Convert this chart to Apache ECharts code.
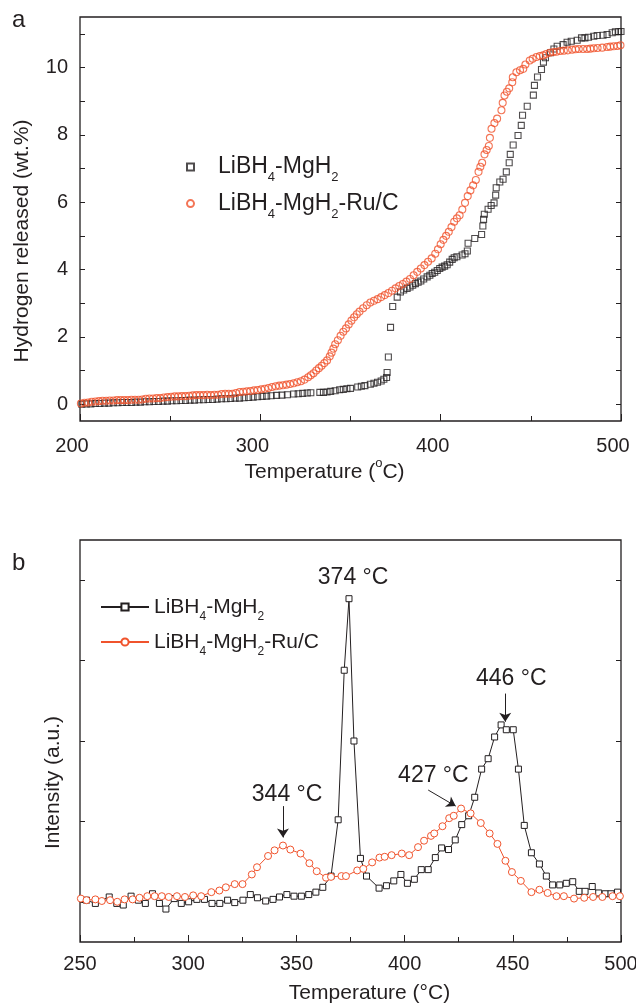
<!DOCTYPE html>
<html lang="en">
<head>
<meta charset="UTF-8">
<title>Hydrogen release and MS profiles</title>
<style>
  html, body { margin: 0; padding: 0; width: 636px; height: 1005px; background: #fff; }
  #main { width: 636px; height: 1005px; }
</style>
</head>
<body>
<div id="main"></div>
<script src="https://cdn.jsdelivr.net/npm/echarts@6/dist/echarts.min.js"></script>
<script>
// ---- panel a: hydrogen released (wt.%) vs temperature (C)
var tempA_ref = [201, 203.5, 206, 208.5, 211, 213.5, 216, 218.5, 221, 223.5, 226, 228.5, 231, 233.5, 236, 238.5, 241, 243.5, 246, 248.5,
  251, 253.5, 256, 258.5, 261, 263.5, 266, 268.5, 271, 273.5, 276, 278.5, 281, 283.5, 286, 288.5, 291, 293.5, 296, 298.5,
  301, 303.5, 306, 309, 312, 315, 318.5, 321, 323.5, 326, 328, 333, 335, 337, 339, 341.5, 344, 346, 348, 350,
  354, 356, 358, 361, 363, 365, 367, 368.5, 370, 370.3, 371, 372.2, 373.4, 375.9, 377.7, 379.5, 381.4, 383, 384.5, 386,
  387.5, 389, 390.6, 392.5, 394, 395.3, 396.7, 398.1, 399.5, 400.8, 402.2, 403.6, 405, 406.4, 407.5, 409, 411.9, 413.5, 414.8, 415.2,
  418.9, 422.7, 423.4, 423.8, 424.2, 426.3, 428, 429.6, 430.5, 430.8, 432.8, 434.6, 436.4, 438, 438.6, 440.2, 442.9, 444.7, 445.4, 448,
  451.4, 452, 453.7, 455.9, 457, 458.1, 460.9, 462.8, 464.6, 467.9, 470.1, 472.4, 475.7, 478.1, 480, 482, 484.9, 486.8, 490, 492.3,
  495.1, 496.9, 498.7, 500];
var h2A_ref = [0.00, 0.01, 0.01, 0.02, 0.02, 0.03, 0.03, 0.04, 0.04, 0.05, 0.05, 0.05, 0.06, 0.06, 0.07, 0.07, 0.08, 0.08, 0.09, 0.09,
  0.10, 0.10, 0.11, 0.11, 0.12, 0.12, 0.13, 0.13, 0.14, 0.14, 0.15, 0.16, 0.16, 0.17, 0.18, 0.18, 0.19, 0.20, 0.21, 0.22,
  0.23, 0.24, 0.25, 0.26, 0.27, 0.28, 0.30, 0.31, 0.32, 0.33, 0.34, 0.35, 0.35, 0.36, 0.38, 0.40, 0.43, 0.44, 0.46, 0.47,
  0.51, 0.53, 0.55, 0.59, 0.62, 0.65, 0.69, 0.74, 0.79, 0.94, 1.40, 2.28, 2.90, 3.18, 3.33, 3.39, 3.44, 3.48, 3.53, 3.58,
  3.62, 3.66, 3.72, 3.78, 3.83, 3.88, 3.92, 3.97, 4.03, 4.07, 4.10, 4.14, 4.22, 4.30, 4.35, 4.38, 4.43, 4.47, 4.55, 4.78,
  4.92, 5.04, 5.29, 5.49, 5.64, 5.79, 5.90, 5.98, 6.21, 6.43, 6.60, 6.68, 6.90, 7.17, 7.42, 7.70, 7.98, 8.28, 8.58, 8.85,
  9.18, 9.47, 9.72, 9.94, 10.16, 10.29, 10.44, 10.55, 10.63, 10.68, 10.75, 10.78, 10.81, 10.88, 10.88, 10.90, 10.93, 10.95, 10.96, 10.98,
  11.03, 11.06, 11.06, 11.07];

var tempA_ru = [200.5, 202.5, 204.5, 206.5, 208.5, 210.5, 212.5, 214.5, 216.5, 218.5, 220.5, 222.5, 224.5, 226.5, 228.5, 230.5, 232.5, 234.5, 236.5, 238.5,
  240.5, 242.5, 244.5, 246.5, 248.5, 250.5, 252.5, 254.5, 256.5, 258.5, 260.5, 262.5, 264.5, 266.5, 268.5, 270.5, 272.5, 274.5, 276.5, 278.5,
  280.5, 282.5, 284.5, 286.5, 288.5, 290.5, 292.5, 294.5, 296.5, 298.5, 300.5, 302.5, 304.5, 306.5, 308.5, 310.5, 312.5, 314.5, 316.5, 318.5,
  320.5, 322.5, 324.5, 326.5, 328, 329.5, 331, 332.5, 334, 335.5, 337, 338.5, 339.5, 340.5, 341.5, 343, 344.5, 346, 347.5, 349,
  350.5, 352, 353.5, 355, 357, 359, 361, 363, 365, 367, 369, 371, 373, 375, 377, 379, 381, 383, 385, 387,
  389, 391, 393, 395, 397, 398.5, 400, 401.5, 403, 404.5, 406, 407.5, 409, 410.5, 412, 413.5, 415, 416.5, 418, 419.5,
  421, 422, 423, 424.3, 425.5, 426.7, 427.3, 428.2, 429.8, 431.3, 433.7, 434.4, 435.4, 436.7, 438, 439.7, 440, 442, 444, 445.8,
  447, 449.4, 451, 453.1, 455, 456.8, 458.5, 460.5, 462.5, 464.2, 466.3, 468.3, 470.5, 472.9, 474.8, 476.6, 479, 481.2, 483, 484.9,
  487, 489.6, 492.3, 494, 496, 498, 499.7];
var h2A_ru = [0.02, 0.04, 0.05, 0.07, 0.08, 0.09, 0.10, 0.10, 0.11, 0.11, 0.12, 0.12, 0.12, 0.12, 0.13, 0.13, 0.13, 0.14, 0.16, 0.17,
  0.17, 0.18, 0.18, 0.20, 0.21, 0.22, 0.23, 0.23, 0.24, 0.24, 0.25, 0.26, 0.27, 0.27, 0.27, 0.28, 0.27, 0.28, 0.28, 0.30,
  0.31, 0.31, 0.31, 0.33, 0.36, 0.37, 0.38, 0.39, 0.41, 0.42, 0.44, 0.46, 0.48, 0.51, 0.53, 0.55, 0.56, 0.58, 0.60, 0.62,
  0.65, 0.68, 0.73, 0.80, 0.86, 0.92, 1.00, 1.07, 1.14, 1.22, 1.30, 1.42, 1.53, 1.65, 1.78, 1.90, 2.03, 2.15, 2.25, 2.37,
  2.48, 2.58, 2.67, 2.75, 2.85, 2.94, 3.02, 3.07, 3.12, 3.18, 3.24, 3.30, 3.37, 3.44, 3.51, 3.57, 3.64, 3.72, 3.83, 3.93,
  4.03, 4.13, 4.23, 4.33, 4.47, 4.60, 4.75, 4.88, 5.00, 5.12, 5.26, 5.42, 5.52, 5.61, 5.78, 5.98, 6.18, 6.35, 6.50, 6.66,
  6.90, 7.05, 7.17, 7.42, 7.55, 7.67, 7.91, 8.18, 8.35, 8.48, 8.73, 8.95, 9.17, 9.28, 9.38, 9.56, 9.71, 9.86, 9.92, 9.96,
  10.09, 10.21, 10.26, 10.31, 10.34, 10.36, 10.40, 10.44, 10.46, 10.47, 10.49, 10.50, 10.51, 10.53, 10.54, 10.55, 10.55, 10.55, 10.56, 10.57,
  10.58, 10.59, 10.61, 10.62, 10.63, 10.64, 10.66];

// ---- panel b: MS intensity (a.u.) vs temperature (C)
var tempB_ref = [253, 257.1, 263.5, 267, 270, 273.6, 277, 280.2, 283.5, 286.7, 289.7, 293.5, 296.8, 300.2, 304, 307.5, 311, 314.6, 318.2, 321.5,
  325.3, 328.7, 332, 335.8, 339.2, 342.2, 345.6, 348.9, 352.3, 355.7, 359, 362.2, 366, 369.3, 372.1, 374.3, 376.6, 379.6, 382.4, 388.2,
  391.6, 395, 398.3, 401.3, 404.5, 407.7, 410.9, 414.2, 417.1, 420.3, 423.4, 426.4, 429.6, 432.4, 435.6, 438.6, 441.6, 444.6, 447, 450.2,
  452.6, 455.3, 458.6, 462.3, 465.5, 468.4, 471.7, 474.7, 477.7, 480.7, 483.4, 486.7, 489.7, 492.7, 495.4, 498.4];
var intB_ref = [0.02, -0.02, 0.06, -0.02, -0.04, 0.07, 0.02, -0.02, 0.10, -0.02, -0.09, 0.04, -0.02, 0.00, 0.03, 0.03, -0.02, -0.02, 0.02, -0.01,
  0.02, 0.09, 0.05, 0.01, 0.03, 0.06, 0.09, 0.07, 0.07, 0.09, 0.12, 0.18, 0.32, 1.02, 2.88, 3.77, 2.00, 0.54, 0.32, 0.17,
  0.20, 0.26, 0.34, 0.23, 0.28, 0.40, 0.40, 0.55, 0.67, 0.65, 0.77, 0.96, 1.07, 1.30, 1.65, 1.78, 2.05, 2.20, 2.14, 2.14,
  1.65, 0.95, 0.61, 0.47, 0.32, 0.21, 0.21, 0.23, 0.25, 0.13, 0.13, 0.19, 0.11, 0.10, 0.10, 0.12];

var tempB_ru = [250.4, 253, 257.1, 260.1, 263.9, 267.2, 270.6, 274.3, 277.5, 281.1, 284.5, 287.8, 291, 294.8, 298.5, 302.3, 306, 310.7, 314.4, 317.4,
  321.5, 325.1, 329.4, 331.8, 336.9, 339.9, 343.8, 347.2, 351.9, 356, 359.4, 363.7, 366, 370.8, 372.9, 378.1, 380.9, 385, 388.4, 390.8,
  394, 398.7, 402.1, 406.2, 409, 412.2, 413.7, 417.5, 420.6, 422.7, 426.1, 430.5, 435.2, 439.3, 442.9, 446.6, 449.6, 453.7, 458.6, 462.3,
  466.1, 470.2, 473.6, 478.3, 483, 487.1, 491.4, 496.1, 499.5];
var intB_ru = [0.04, 0.02, 0.03, 0.01, 0.02, 0.00, 0.03, 0.03, 0.05, 0.07, 0.07, 0.07, 0.06, 0.07, 0.06, 0.08, 0.07, 0.12, 0.14, 0.18,
  0.22, 0.22, 0.34, 0.43, 0.57, 0.64, 0.70, 0.65, 0.60, 0.48, 0.38, 0.30, 0.31, 0.32, 0.32, 0.39, 0.41, 0.49, 0.55, 0.56,
  0.58, 0.60, 0.58, 0.68, 0.76, 0.82, 0.85, 0.94, 1.04, 1.07, 1.16, 1.10, 0.98, 0.85, 0.72, 0.51, 0.37, 0.26, 0.12, 0.15,
  0.11, 0.07, 0.07, 0.04, 0.05, 0.06, 0.06, 0.07, 0.07];

// ticks
var yLabelsA = [0, 2, 4, 6, 8, 10];
var yTicksA = [0, 1, 2, 3, 4, 5, 6, 7, 8, 9, 10, 11];
var yTicksB = [0, 1, 2, 3, 4];

// peak annotations in panel b: [label, textT, textI, arrowFromT, arrowFromI, arrowToT, arrowToI]
var peaksRef = [
  ['374 °C', 376.2, 4.03, null, null, null, null],
  ['446 °C', 449.3, 2.78, 446.5, 2.59, 446.5, 2.24]
];
var peaksRu = [
  ['344 °C', 345.7, 1.33, 343.8, 1.19, 343.8, 0.80],
  ['427 °C', 413.3, 1.57, 410.9, 1.39, 423.6, 1.19]
];

var ink = '#231f20';
var red = '#f0532c';
var font = '"Liberation Sans", Arial, Helvetica, sans-serif';

var names = {
  aRef: 'LiBH4-MgH2', aRu: 'LiBH4-MgH2-Ru/C',
  bRef: 'LiBH4-MgH2 (MS)', bRu: 'LiBH4-MgH2-Ru/C (MS)'
};

function pairs(xs, ys) {
  return xs.map(function (x, i) { return [x, ys[i]]; });
}
function chem(name) {
  return name.replace(' (MS)', '').replace('H4', 'H{s|4}').replace('MgH2', 'MgH{s|2}');
}
function marks(list) {
  return {
    points: list.map(function (p) { return {name: p[0], coord: [p[1], p[2]]}; }),
    lines: list.filter(function (p) { return p[3] !== null; }).map(function (p) {
      return [{coord: [p[3], p[4]]}, {coord: [p[5], p[6]]}];
    })
  };
}
var mRef = marks(peaksRef), mRu = marks(peaksRu);

function markPoint(pts) {
  return {
    silent: true, symbol: 'circle', symbolSize: 1,
    itemStyle: {color: 'rgba(0,0,0,0)'},
    label: {show: true, position: 'inside', formatter: '{b}', fontSize: 23, color: ink, fontFamily: font},
    data: pts
  };
}
function markLine(lines) {
  return {
    silent: true, symbol: ['none', 'arrow'], symbolSize: 9,
    label: {show: false},
    lineStyle: {color: ink, width: 1, type: 'solid'},
    itemStyle: {color: ink},
    data: lines
  };
}

var tickStyle = {color: ink, width: 1};

var chart = echarts.init(document.getElementById('main'));
chart.setOption({
  animation: false,
  textStyle: {fontFamily: font, color: ink},
  title: [
    {text: 'a', left: 12, top: 8, padding: 0, textStyle: {fontSize: 24, fontWeight: 'normal', color: ink, fontFamily: font}},
    {text: 'b', left: 12, top: 551, padding: 0, textStyle: {fontSize: 24, fontWeight: 'normal', color: ink, fontFamily: font}}
  ],
  grid: [
    {left: 80, right: 15, top: 17, height: 404, show: true, borderColor: ink, borderWidth: 1.3,
      backgroundColor: 'transparent', containLabel: false, outerBoundsMode: 'none'},
    {left: 80, right: 15, top: 540, height: 402, show: true, borderColor: ink, borderWidth: 1.3,
      backgroundColor: 'transparent', containLabel: false, outerBoundsMode: 'none'}
  ],
  legend: [
    {
      data: [names.aRef, names.aRu], orient: 'vertical', left: 181, top: 145,
      itemWidth: 7, itemHeight: 7, itemGap: 2.6, selectedMode: false,
      formatter: function (n) { return '{g| }' + chem(n); },
      textStyle: {fontSize: 23, lineHeight: 34, color: ink, fontFamily: font,
        rich: {g: {width: 19}, s: {fontSize: 13, lineHeight: 10, verticalAlign: 'bottom', fontFamily: font, color: ink}}}
    },
    {
      data: [names.bRef, names.bRu], orient: 'vertical', left: 95, top: 586,
      itemWidth: 48, itemHeight: 9, itemGap: 3, selectedMode: false,
      formatter: function (n) { return chem(n); },
      textStyle: {fontSize: 21, lineHeight: 32, color: ink, fontFamily: font,
        rich: {s: {fontSize: 12, lineHeight: 10, verticalAlign: 'bottom', fontFamily: font, color: ink}}}
    }
  ],
  xAxis: [
    {
      gridIndex: 0, type: 'value', min: 200, max: 500, interval: 100,
      axisLine: {show: false, onZero: false}, splitLine: {show: false},
      axisTick: {inside: true, length: 7, lineStyle: tickStyle},
      minorTick: {show: true, splitNumber: 2, length: 5, lineStyle: tickStyle},
      axisLabel: {fontSize: 20, color: ink, margin: 15, padding: [0, 16, 0, 0]},
      name: 'Temperature ({p|o}C)', nameLocation: 'middle', nameGap: 36,
      nameTextStyle: {fontSize: 21, color: ink, lineHeight: 30, padding: [0, 52, 0, 0],
        rich: {p: {fontSize: 13, lineHeight: 12, verticalAlign: 'top', color: ink, fontFamily: font}}}
    },
    {
      gridIndex: 1, type: 'value', min: 250, max: 500, interval: 50,
      axisLine: {show: false, onZero: false}, splitLine: {show: false},
      axisTick: {inside: true, length: 7, lineStyle: tickStyle},
      minorTick: {show: true, splitNumber: 2, length: 5, lineStyle: tickStyle},
      axisLabel: {fontSize: 20, color: ink, margin: 12},
      name: 'Temperature (°C)', nameLocation: 'middle', nameGap: 36,
      nameTextStyle: {fontSize: 21, color: ink, lineHeight: 30, padding: [0, 0, 0, 38]}
    }
  ],
  yAxis: [
    {
      gridIndex: 0, type: 'value', min: -0.5, max: 11.5,
      axisLine: {show: false, onZero: false}, splitLine: {show: false},
      axisTick: {inside: true, length: 5, lineStyle: tickStyle, customValues: yTicksA},
      axisLabel: {fontSize: 20, color: ink, margin: 12, customValues: yLabelsA},
      name: 'Hydrogen released (wt.%)', nameLocation: 'middle', nameGap: 47,
      nameTextStyle: {fontSize: 21, color: ink, padding: [0, 44, 0, 0]}
    },
    {
      gridIndex: 0, type: 'value', min: -0.5, max: 11.5, position: 'right',
      axisLine: {show: false, onZero: false}, splitLine: {show: false},
      axisTick: {inside: true, length: 5, lineStyle: tickStyle, customValues: yTicksA},
      axisLabel: {show: false}
    },
    {
      gridIndex: 1, type: 'value', min: -0.5, max: 4.5,
      axisLine: {show: false, onZero: false}, splitLine: {show: false},
      axisTick: {inside: true, length: 5, lineStyle: tickStyle, customValues: yTicksB},
      axisLabel: {show: false},
      name: 'Intensity (a.u.)', nameLocation: 'middle', nameGap: 16,
      nameTextStyle: {fontSize: 21, color: ink, padding: [0, 83, 0, 0]}
    },
    {
      gridIndex: 1, type: 'value', min: -0.5, max: 4.5, position: 'right',
      axisLine: {show: false, onZero: false}, splitLine: {show: false},
      axisTick: {inside: true, length: 5, lineStyle: tickStyle, customValues: yTicksB},
      axisLabel: {show: false}
    }
  ],
  series: [
    {
      name: names.aRef, type: 'scatter', xAxisIndex: 0, yAxisIndex: 0,
      data: pairs(tempA_ref, h2A_ref), symbol: 'rect', symbolSize: 6, silent: true,
      itemStyle: {color: 'rgba(255,255,255,0)', borderColor: ink, borderWidth: 1.1}
    },
    {
      name: names.aRu, type: 'scatter', xAxisIndex: 0, yAxisIndex: 0,
      data: pairs(tempA_ru, h2A_ru), symbol: 'circle', symbolSize: 7, silent: true,
      itemStyle: {color: 'rgba(255,255,255,0)', borderColor: red, borderWidth: 1.1}
    },
    {
      name: names.bRef, type: 'line', xAxisIndex: 1, yAxisIndex: 2,
      data: pairs(tempB_ref, intB_ref), symbol: 'rect', symbolSize: 6, showAllSymbol: true, silent: true,
      lineStyle: {color: ink, width: 1},
      itemStyle: {color: '#fff', borderColor: ink, borderWidth: 1},
      markPoint: markPoint(mRef.points),
      markLine: markLine(mRef.lines)
    },
    {
      name: names.bRu, type: 'line', xAxisIndex: 1, yAxisIndex: 2,
      data: pairs(tempB_ru, intB_ru), symbol: 'circle', symbolSize: 7, showAllSymbol: true, silent: true,
      lineStyle: {color: red, width: 1},
      itemStyle: {color: '#fff', borderColor: red, borderWidth: 1},
      markPoint: markPoint(mRu.points),
      markLine: markLine(mRu.lines)
    }
  ]
});
</script>
</body>
</html>
